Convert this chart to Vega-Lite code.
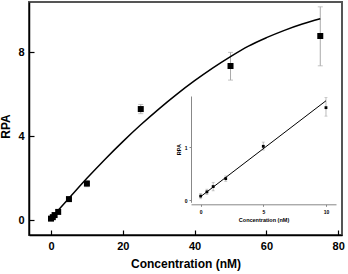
{
  "$schema": "https://vega.github.io/schema/vega-lite/v6.json",
  "width": 313,
  "height": 233,
  "autosize": {"type": "none"},
  "padding": {"left": 29, "top": 2, "right": 6, "bottom": 39},
  "background": "white",
  "config": {
    "view": {"stroke": "#555555", "strokeWidth": 2},
    "font": "Liberation Sans",
    "axis": {"grid": false, "domainColor": "black", "tickColor": "black", "labelColor": "black", "titleColor": "black"}
  },
  "datasets": {
    "main": [
      {"c": 0, "r": 0.08, "lo": 0.04, "hi": 0.12},
      {"c": 0.5, "r": 0.15, "lo": 0.11, "hi": 0.19},
      {"c": 1, "r": 0.25, "lo": 0.18, "hi": 0.33},
      {"c": 2, "r": 0.40, "lo": 0.35, "hi": 0.45},
      {"c": 5, "r": 1.01, "lo": 0.95, "hi": 1.08},
      {"c": 10, "r": 1.75, "lo": 1.60, "hi": 1.90},
      {"c": 25, "r": 5.30, "lo": 5.08, "hi": 5.52},
      {"c": 50, "r": 7.35, "lo": 6.68, "hi": 8.00},
      {"c": 75, "r": 8.78, "lo": 7.36, "hi": 10.17}
    ],
    "curve": [
      {"c": 0, "r": 0.1},
      {"c": 5, "r": 1.05},
      {"c": 10, "r": 2.0},
      {"c": 15, "r": 2.9},
      {"c": 20, "r": 3.75},
      {"c": 25, "r": 4.55},
      {"c": 30, "r": 5.3},
      {"c": 35, "r": 6.0},
      {"c": 40, "r": 6.65},
      {"c": 45, "r": 7.25},
      {"c": 50, "r": 7.8},
      {"c": 55, "r": 8.3},
      {"c": 60, "r": 8.7},
      {"c": 65, "r": 9.05},
      {"c": 70, "r": 9.35},
      {"c": 75, "r": 9.6}
    ],
    "inset": [
      {"c": 0, "r": 0.08, "lo": 0.03, "hi": 0.13},
      {"c": 0.5, "r": 0.16, "lo": 0.11, "hi": 0.21},
      {"c": 1, "r": 0.26, "lo": 0.18, "hi": 0.34},
      {"c": 2, "r": 0.41, "lo": 0.36, "hi": 0.46},
      {"c": 5, "r": 1.02, "lo": 0.95, "hi": 1.10},
      {"c": 10, "r": 1.75, "lo": 1.59, "hi": 1.94}
    ],
    "insetLine": [
      {"c": 0, "r": 0.07},
      {"c": 10, "r": 1.88}
    ]
  },
  "layer": [
    {
      "encoding": {
        "x": {
          "field": "c", "type": "quantitative",
          "scale": {"domain": [-6.13, 81.05], "nice": false, "zero": false},
          "title": "Concentration (nM)",
          "axis": {"values": [0, 20, 40, 60, 80], "tickSize": -5, "labelPadding": 10, "labelFontSize": 11, "labelFontWeight": "bold", "titleFontSize": 12, "titleFontWeight": "bold", "titlePadding": 7, "domainWidth": 1.5, "tickWidth": 1.2, "orient": "bottom"}
        }
      },
      "layer": [
        {
          "data": {"name": "main"},
          "mark": {"type": "rule", "color": "#aaaaaa", "strokeWidth": 1},
          "encoding": {
            "y": {"field": "lo", "type": "quantitative", "title": "RPA", "scale": {"domain": [-0.7, 10.4], "nice": false, "zero": false},
              "axis": {"values": [0, 4, 8], "tickSize": -5, "labelPadding": 10, "labelFontSize": 11, "labelFontWeight": "bold", "titleFontSize": 12, "titleFontWeight": "bold", "titlePadding": 5, "titleY": 124, "domainWidth": 1.5, "tickWidth": 1.2, "orient": "left"}},
            "y2": {"field": "hi"}
          }
        },
        {
          "data": {"name": "main"},
          "mark": {"type": "tick", "orient": "horizontal", "color": "#aaaaaa", "size": 5, "thickness": 1},
          "encoding": {"y": {"field": "lo", "type": "quantitative", "title": "RPA"}}
        },
        {
          "data": {"name": "main"},
          "mark": {"type": "tick", "orient": "horizontal", "color": "#aaaaaa", "size": 5, "thickness": 1},
          "encoding": {"y": {"field": "hi", "type": "quantitative", "title": "RPA"}}
        },
        {
          "data": {"name": "curve"},
          "mark": {"type": "line", "color": "black", "strokeWidth": 1.5, "interpolate": "monotone"},
          "encoding": {"y": {"field": "r", "type": "quantitative", "title": "RPA"}}
        },
        {
          "data": {"name": "main"},
          "mark": {"type": "square", "color": "black", "opacity": 1, "filled": true, "size": 36},
          "encoding": {"y": {"field": "r", "type": "quantitative", "title": "RPA"}}
        }
      ]
    },
    {
      "encoding": {
        "x": {
          "field": "c", "type": "quantitative",
          "scale": {"domain": [-0.77, 10.8], "range": [162, 307], "nice": false, "zero": false},
          "title": "Concentration (nM)",
          "axis": {"orient": "bottom", "offset": -30.7, "values": [0, 5, 10], "format": "d", "tickSize": 2, "labelPadding": 3, "labelFontSize": 5, "labelFontWeight": "bold", "titleFontSize": 5.5, "titleFontWeight": "bold", "titlePadding": 3, "domainColor": "#888888", "tickColor": "#888888"}
        }
      },
      "layer": [
        {
          "data": {"name": "inset"},
          "mark": {"type": "rule", "color": "#aaaaaa", "strokeWidth": 0.8},
          "encoding": {
            "y": {"field": "lo", "type": "quantitative", "title": "RPA", "scale": {"domain": [-0.037, 1.97], "range": [200.3, 94], "nice": false, "zero": false},
              "axis": {"orient": "left", "offset": -162, "values": [0, 1], "format": "d", "tickSize": 2, "labelPadding": 2, "labelFontSize": 5, "labelFontWeight": "bold", "titleFontSize": 5.5, "titleFontWeight": "bold", "titlePadding": 3, "domainColor": "#888888", "tickColor": "#888888"}},
            "y2": {"field": "hi"}
          }
        },
        {
          "mark": {"type": "rect", "fillOpacity": 0, "stroke": "#888888", "strokeWidth": 1},
          "encoding": {
            "x": {"datum": -0.77, "type": "quantitative"},
            "x2": {"datum": 10.8},
            "y": {"datum": -0.037, "type": "quantitative", "title": "RPA"},
            "y2": {"datum": 1.97}
          }
        },
        {
          "data": {"name": "inset"},
          "mark": {"type": "tick", "orient": "horizontal", "color": "#aaaaaa", "size": 3, "thickness": 0.8},
          "encoding": {"y": {"field": "lo", "type": "quantitative", "title": "RPA"}}
        },
        {
          "data": {"name": "inset"},
          "mark": {"type": "tick", "orient": "horizontal", "color": "#aaaaaa", "size": 3, "thickness": 0.8},
          "encoding": {"y": {"field": "hi", "type": "quantitative", "title": "RPA"}}
        },
        {
          "data": {"name": "insetLine"},
          "mark": {"type": "line", "color": "black", "strokeWidth": 1},
          "encoding": {"y": {"field": "r", "type": "quantitative", "title": "RPA"}}
        },
        {
          "data": {"name": "inset"},
          "mark": {"type": "square", "color": "black", "opacity": 1, "filled": true, "size": 8},
          "encoding": {"y": {"field": "r", "type": "quantitative", "title": "RPA"}}
        }
      ]
    }
  ],
  "resolve": {"scale": {"x": "independent", "y": "independent"}, "axis": {"x": "independent", "y": "independent"}}
}
